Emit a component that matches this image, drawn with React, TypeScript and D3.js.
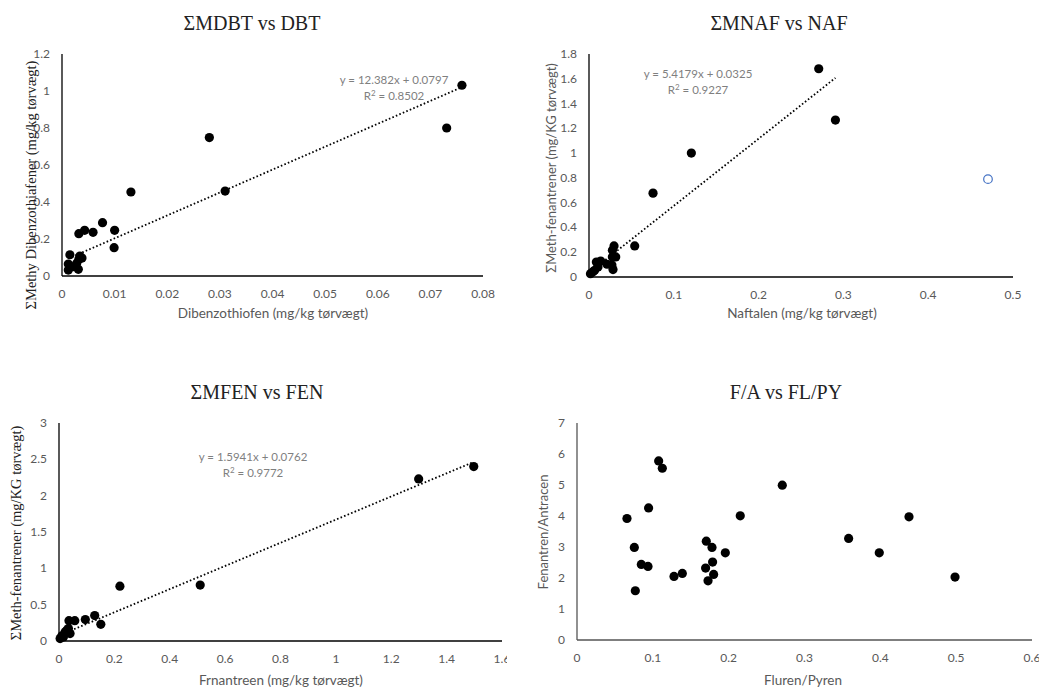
import React, { useRef, useEffect } from 'react';
import * as d3 from 'd3';

// ΣMDBT vs DBT
const dbtX = [0.0760, 0.0731, 0.0280, 0.0310, 0.0131, 0.0077, 0.0043, 0.0032, 0.0059, 0.0100, 0.0099,
  0.0015, 0.0034, 0.0032, 0.0012, 0.0012, 0.0021, 0.0031, 0.0028, 0.0038];
const dbtY = [1.031, 0.800, 0.748, 0.459, 0.454, 0.288, 0.247, 0.229, 0.236, 0.247, 0.153,
  0.115, 0.108, 0.090, 0.065, 0.032, 0.050, 0.036, 0.069, 0.097];

// ΣMNAF vs NAF
const nafX = [0.2709, 0.2906, 0.1207, 0.0755, 0.0539, 0.0295, 0.0276, 0.0276, 0.0315, 0.0283,
  0.0212, 0.0138, 0.0087, 0.0106, 0.0067, 0.0017, 0.0047, 0.0270];
const nafY = [1.681, 1.267, 1.000, 0.677, 0.251, 0.251, 0.216, 0.162, 0.162, 0.060,
  0.103, 0.129, 0.121, 0.081, 0.054, 0.027, 0.043, 0.097];
const nafOutlierX = [0.4705];
const nafOutlierY = [0.790];

// ΣMFEN vs FEN
const fenX = [1.498, 1.299, 0.510, 0.220, 0.129, 0.151, 0.095, 0.057, 0.036, 0.034, 0.040,
  0.022, 0.0098, 0.004, 0.028, 0.016];
const fenY = [2.401, 2.231, 0.769, 0.755, 0.350, 0.230, 0.295, 0.280, 0.280, 0.171, 0.102,
  0.124, 0.070, 0.033, 0.148, 0.055];

// F/A vs FL/PY
const flpyX = [0.1077, 0.1125, 0.2707, 0.0944, 0.0659, 0.2153, 0.4378, 0.3582, 0.3986, 0.4985,
  0.0756, 0.0848, 0.0936, 0.0769, 0.1279, 0.1389, 0.1705, 0.1780, 0.1956, 0.1788, 0.1696,
  0.1802, 0.1728];
const faY = [5.776, 5.541, 4.993, 4.262, 3.920, 4.005, 3.972, 3.276, 2.813, 2.029,
  2.985, 2.438, 2.373, 1.589, 2.052, 2.148, 3.189, 2.985, 2.813, 2.513, 2.319,
  2.116, 1.910];

const dbtTicksX = [0, 0.01, 0.02, 0.03, 0.04, 0.05, 0.06, 0.07, 0.08];
const dbtTicksY = [0, 0.2, 0.4, 0.6, 0.8, 1, 1.2];
const nafTicksX = [0, 0.1, 0.2, 0.3, 0.4, 0.5];
const nafTicksY = [0, 0.2, 0.4, 0.6, 0.8, 1, 1.2, 1.4, 1.6, 1.8];
const fenTicksX = [0, 0.2, 0.4, 0.6, 0.8, 1, 1.2, 1.4, 1.6];
const fenTicksY = [0, 0.5, 1, 1.5, 2, 2.5, 3];
const flpyTicksX = [0, 0.1, 0.2, 0.3, 0.4, 0.5, 0.6];
const faTicksY = [0, 1, 2, 3, 4, 5, 6, 7];

const SERIF = '"Liberation Serif", "DejaVu Serif", serif';
const SANS = 'Lato, "Open Sans", sans-serif';
const GREY = '#595959';

const panels = [
  {
    title: 'ΣMDBT vs DBT', tx: 252, ty: 30,
    x0: 62, x1: 483, y0: 276, y1: 54,
    xd: [0, 0.08], yd: [0, 1.2], xt: dbtTicksX, yt: dbtTicksY,
    xs: dbtX, ys: dbtY,
    trend: { a: 12.382, b: 0.0797, eq: 'y = 12.382x + 0.0797', r2: '0.8502', ex: 394, ey: 84 },
    xl: 'Dibenzothiofen (mg/kg tørvægt)', xlx: 273, xly: 318,
    yl: 'ΣMethy Dibenzothiafener (mg/kg tørvægt)', ylx: 31, yly: 185, ylFont: SERIF, ylSize: 14.5,
    axis: '#000',
  },
  {
    title: 'ΣMNAF vs NAF', tx: 779, ty: 30,
    x0: 589, x1: 1013, y0: 277, y1: 54,
    xd: [0, 0.5], yd: [0, 1.8], xt: nafTicksX, yt: nafTicksY,
    xs: nafX, ys: nafY, ox: nafOutlierX, oy: nafOutlierY,
    trend: { a: 5.4179, b: 0.0325, eq: 'y = 5.4179x + 0.0325', r2: '0.9227', ex: 698, ey: 78 },
    xl: 'Naftalen (mg/kg tørvægt)', xlx: 802, xly: 318,
    yl: 'ΣMeth-fenantrener (mg/KG tørvægt)', ylx: 551, yly: 168, ylFont: SANS, ylSize: 13,
    axis: '#000',
  },
  {
    title: 'ΣMFEN vs FEN', tx: 257, ty: 399,
    x0: 59, x1: 502, y0: 641, y1: 423,
    xd: [0, 1.6], yd: [0, 3], xt: fenTicksX, yt: fenTicksY,
    xs: fenX, ys: fenY, clip: 507,
    trend: { a: 1.5941, b: 0.0762, eq: 'y = 1.5941x + 0.0762', r2: '0.9772', ex: 253, ey: 461 },
    xl: 'Frnantreen (mg/kg tørvægt)', xlx: 281, xly: 685,
    yl: 'ΣMeth-fenantrener (mg/KG tørvægt)', ylx: 16, yly: 533, ylFont: SERIF, ylSize: 14.5,
    axis: '#000',
  },
  {
    title: 'F/A vs FL/PY', tx: 786, ty: 399,
    x0: 577, x1: 1032, y0: 640, y1: 423,
    xd: [0, 0.6], yd: [0, 7], xt: flpyTicksX, yt: faTicksY,
    xs: flpyX, ys: faY,
    xl: 'Fluren/Pyren', xlx: 803, xly: 685,
    yl: 'Fenantren/Antracen', ylx: 543, yly: 532, ylFont: SANS, ylSize: 13,
    axis: '#555',
  },
];

const App = () => {
  const ref = useRef(null);

  useEffect(() => {
    const svg = d3.select(ref.current);
    svg.selectAll('*').remove();

    panels.forEach((p, i) => {
      const g = svg.append('g');
      if (p.clip) {
        svg.append('clipPath').attr('id', 'clip' + i)
          .append('rect').attr('x', 0).attr('y', 0).attr('width', p.clip).attr('height', 688);
        g.attr('clip-path', `url(#clip${i})`);
      }
      const x = d3.scaleLinear().domain(p.xd).range([p.x0, p.x1]);
      const y = d3.scaleLinear().domain(p.yd).range([p.y0, p.y1]);

      g.append('text')
        .attr('x', p.tx).attr('y', p.ty)
        .attr('text-anchor', 'middle')
        .attr('font-family', SERIF).attr('font-size', 20).attr('fill', '#222')
        .text(p.title);

      // y ticks
      g.selectAll('.yt').data(p.yt).join('text')
        .attr('x', p.x0 - 12).attr('y', d => y(d) + 4)
        .attr('text-anchor', 'end')
        .attr('font-family', SANS).attr('font-size', 12).attr('fill', GREY)
        .text(d => String(d));

      // x ticks
      g.selectAll('.xt').data(p.xt).join('text')
        .attr('x', d => x(d)).attr('y', p.y0 + 22)
        .attr('text-anchor', 'middle')
        .attr('font-family', SANS).attr('font-size', 12).attr('fill', GREY)
        .text(d => String(d));

      // axis lines
      g.append('line').attr('x1', p.x0).attr('x2', p.x0).attr('y1', p.y1).attr('y2', p.y0)
        .attr('stroke', p.axis).attr('stroke-width', 1.3);
      g.append('line').attr('x1', p.x0).attr('x2', p.x1).attr('y1', p.y0).attr('y2', p.y0)
        .attr('stroke', p.axis).attr('stroke-width', 1.3);

      // axis titles
      g.append('text')
        .attr('x', p.xlx).attr('y', p.xly)
        .attr('text-anchor', 'middle')
        .attr('font-family', SANS).attr('font-size', 13.5).attr('fill', GREY)
        .text(p.xl);
      g.append('text')
        .attr('transform', `translate(${p.ylx},${p.yly}) rotate(-90)`)
        .attr('text-anchor', 'middle').attr('dy', '0.35em')
        .attr('font-family', p.ylFont).attr('font-size', p.ylSize)
        .attr('fill', p.ylFont === SERIF ? '#222' : GREY)
        .text(p.yl);

      // trendline
      if (p.trend) {
        const lo = d3.min(p.xs);
        const hi = d3.max(p.xs);
        const t = p.trend;
        const line = d3.line().x(d => x(d)).y(d => y(t.a * d + t.b));
        g.append('path')
          .datum([lo, hi])
          .attr('d', line)
          .attr('fill', 'none').attr('stroke', '#000')
          .attr('stroke-width', 1.8).attr('stroke-dasharray', '1.6 2.2');
        const lab = g.append('text')
          .attr('x', t.ex).attr('y', t.ey)
          .attr('text-anchor', 'middle')
          .attr('font-family', SANS).attr('font-size', 11.5).attr('fill', '#7f7f7f');
        lab.append('tspan').attr('x', t.ex).text(t.eq);
        const l2 = lab.append('tspan').attr('x', t.ex).attr('dy', 16);
        l2.append('tspan').text('R');
        l2.append('tspan').attr('font-size', 8).attr('dy', -4).text('2');
        l2.append('tspan').attr('dy', 4).text(' = ' + t.r2);
      }

      // points
      g.selectAll('.pt').data(p.xs.map((v, k) => [v, p.ys[k]])).join('circle')
        .attr('cx', d => x(d[0])).attr('cy', d => y(d[1]))
        .attr('r', 4.6).attr('fill', '#000');

      if (p.ox) {
        g.selectAll('.op').data(p.ox.map((v, k) => [v, p.oy[k]])).join('circle')
          .attr('cx', d => x(d[0])).attr('cy', d => y(d[1]))
          .attr('r', 4.3).attr('fill', '#fff')
          .attr('stroke', '#4472C4').attr('stroke-width', 1.2);
      }
    });
  }, []);

  return (
    <svg
      ref={ref}
      width={1039}
      height={688}
      style={{ position: 'absolute', left: 0, top: 0, background: '#fff' }}
    />
  );
};

export default App;
